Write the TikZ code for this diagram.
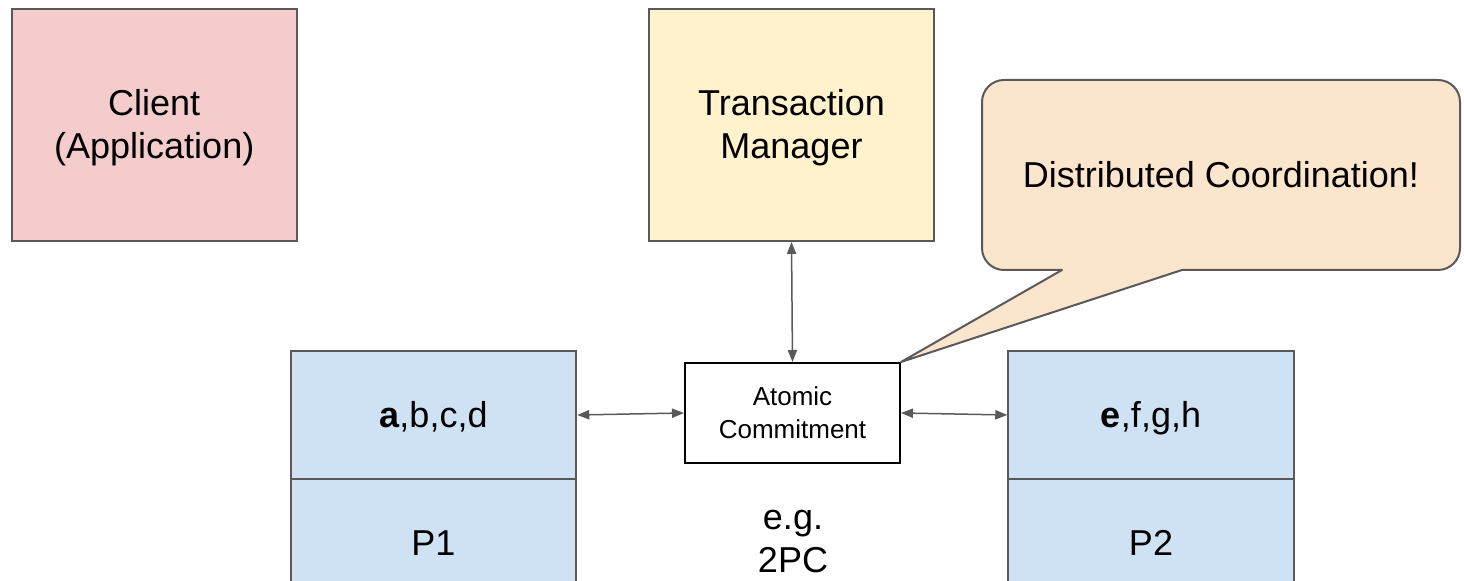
\documentclass[tikz,border=0pt]{standalone}
\usepackage{fontspec}
\setmainfont{Liberation Sans}
\usetikzlibrary{arrows.meta}
\definecolor{pinkfill}{HTML}{F4CCCC}
\definecolor{yellowfill}{HTML}{FFF2CC}
\definecolor{peachfill}{HTML}{FCE5CD}
\definecolor{bluefill}{HTML}{CFE2F3}
\definecolor{bordergray}{HTML}{595959}
\definecolor{arrowgray}{HTML}{595959}
\newcommand\gtop{\rule{0pt}{0.905em}}
\newcommand\gbot{\rule[-0.212em]{0pt}{0.212em}}
\begin{document}
\begin{tikzpicture}[x=0.5pt,y=-0.5pt,
  box/.style={draw=bordergray, line width=1pt, inner sep=0pt, align=center,
    font=\fontsize{18}{21.5}\selectfont},
  bigbox/.style={box, minimum width=142.75pt, minimum height=116pt},
  partbox/.style={box, fill=bluefill, minimum width=142.75pt, minimum height=64pt},
  plain/.style={inner sep=0pt, align=center, font=\fontsize{18}{21.5}\selectfont},
  link/.style={draw=arrowgray, line width=0.75pt,
    {Triangle[length=6pt,width=4.6pt]}-{Triangle[length=6pt,width=4.6pt]}},
  calloutshape/.style={draw=bordergray, line width=1pt, fill=peachfill, line join=round},
]
\useasboundingbox (0,0) rectangle (1464,581);
\clip (0,0) rectangle (1464,581);

\node[bigbox, fill=pinkfill] (client) at (154.25,125) {\gtop Client\\(Application)\gbot};
\node[bigbox, fill=yellowfill] (tm) at (791.5,125) {\gtop Transaction\\Manager\gbot};

\node[partbox] (p1top) at (433.5,415) {\gtop\textbf{a},b,c,d\gbot};
\node[partbox] (p1bot) at (433.5,543) {\gtop P1\gbot};
\node[partbox] (p2top) at (1151,415) {\gtop\textbf{e},f,g,h\gbot};
\node[partbox] (p2bot) at (1151,543) {\gtop P2\gbot};

\node[draw=black, line width=1pt, fill=white, inner sep=0pt, align=center,
  minimum width=107.5pt, minimum height=50pt,
  font=\fontsize{13}{16.5}\selectfont] (atomic) at (792.5,413) {\gtop Atomic\\Commitment\gbot};

\node[plain] (eg) at (793,539) {\gtop e.g.\\2PC\gbot};

\coordinate (tip) at (atomic.north east);
\draw[calloutshape] (tip) -- (1182,270) -- (1438,270) arc(90:0:22) -- (1460,102)
  arc(0:-90:22) -- (1004,80) arc(-90:-180:22) -- (982,248) arc(180:90:22)
  -- (1062,270) -- cycle;
\node[plain] (callout) at (1221,175) {\gtop Distributed Coordination!\gbot};

\draw[link] (p1top.east) -- (atomic.west);
\draw[link] (atomic.east) -- (p2top.west);
\draw[link] (tm.south) -- (atomic.north);
\end{tikzpicture}
\end{document}
